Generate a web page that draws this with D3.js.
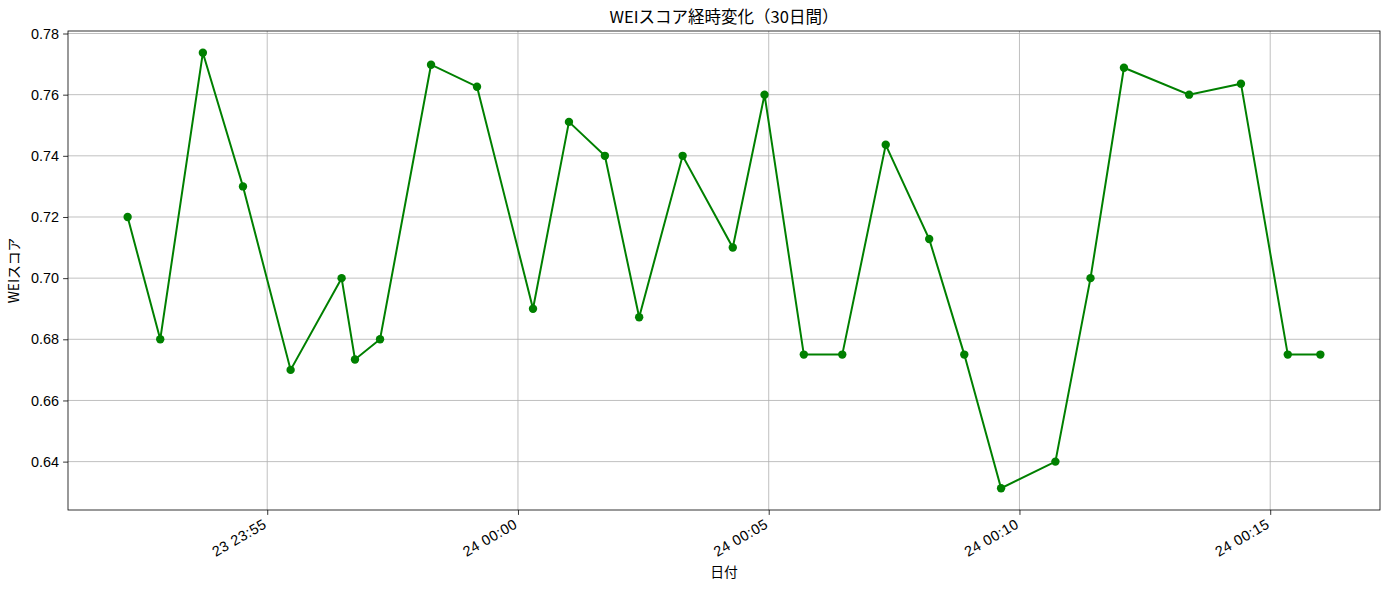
<!DOCTYPE html>
<html><head><meta charset="utf-8">
<script src="https://cdn.jsdelivr.net/npm/d3@7"></script>
<style>
html,body{margin:0;padding:0;background:#fff;}
svg{display:block;font-family:"Noto Sans CJK JP","Noto Sans",sans-serif;}
</style></head>
<body>
<svg id="chart" width="1389" height="590"></svg>
<script>
const times = ["2025-06-23T23:52:13","2025-06-23T23:52:52","2025-06-23T23:53:43","2025-06-23T23:54:31","2025-06-23T23:55:28",
"2025-06-23T23:56:29","2025-06-23T23:56:45","2025-06-23T23:57:15","2025-06-23T23:58:16","2025-06-23T23:59:11",
"2025-06-24T00:00:18","2025-06-24T00:01:01","2025-06-24T00:01:44","2025-06-24T00:02:25","2025-06-24T00:03:17",
"2025-06-24T00:04:17","2025-06-24T00:04:55","2025-06-24T00:05:42","2025-06-24T00:06:28","2025-06-24T00:07:20",
"2025-06-24T00:08:12","2025-06-24T00:08:54","2025-06-24T00:09:38","2025-06-24T00:10:43","2025-06-24T00:11:25",
"2025-06-24T00:12:05","2025-06-24T00:13:23","2025-06-24T00:14:25","2025-06-24T00:15:21","2025-06-24T00:16:00"];
const weiScores = [0.720,0.680,0.7737,0.730,0.670,0.700,0.6734,0.680,0.7698,0.7626,
0.690,0.7511,0.740,0.6872,0.740,0.710,0.760,0.675,0.675,0.7436,
0.7128,0.675,0.6313,0.640,0.700,0.7688,0.760,0.7636,0.675,0.675];
const yTicks = [0.64,0.66,0.68,0.70,0.72,0.74,0.76,0.78];
const titleText = "WEIスコア経時変化（30日間）";
const xLabel = "日付";
const yLabel = "WEIスコア";

const parse = d3.utcParse("%Y-%m-%dT%H:%M:%S");
const data = times.map((t,i)=>({t:parse(t), v:weiScores[i]}));

const svg = d3.select("#chart");
const m = {l:68, t:31, r:9, b:80};
const W = 1389 - m.l - m.r, H = 590 - m.t - m.b;

const tExt = d3.extent(data, d=>d.t);
const tPad = (tExt[1]-tExt[0])*0.05;
const vExt = d3.extent(data, d=>d.v);
const vPad = (vExt[1]-vExt[0])*0.05;

const x = d3.scaleUtc().domain([new Date(+tExt[0]-tPad), new Date(+tExt[1]+tPad)]).range([0,W]);
const y = d3.scaleLinear().domain([vExt[0]-vPad, vExt[1]+vPad]).range([H,0]);

const g = svg.append("g").attr("transform",`translate(${m.l},${m.t})`);
const xTickVals = x.ticks(d3.utcMinute.every(5));

// grid
g.append("g").selectAll("line").data(xTickVals).join("line")
  .attr("x1",d=>x(d)).attr("x2",d=>x(d)).attr("y1",0).attr("y2",H)
  .attr("stroke","#b0b0b0").attr("stroke-width",0.8);
g.append("g").selectAll("line").data(yTicks).join("line")
  .attr("x1",0).attr("x2",W).attr("y1",d=>y(d)).attr("y2",d=>y(d))
  .attr("stroke","#b0b0b0").attr("stroke-width",0.8);

// line
g.append("path").datum(data)
  .attr("fill","none").attr("stroke","#008000").attr("stroke-width",2)
  .attr("d", d3.line().x(d=>x(d.t)).y(d=>y(d.v)));
g.append("g").selectAll("circle").data(data).join("circle")
  .attr("cx",d=>x(d.t)).attr("cy",d=>y(d.v)).attr("r",4.2).attr("fill","#008000");

// axes
const xAxis = g.append("g").attr("transform",`translate(0,${H})`)
  .call(d3.axisBottom(x).tickValues(xTickVals).tickFormat(d3.utcFormat("%d %H:%M")).tickSize(4.9).tickPadding(0));
xAxis.select(".domain").remove();
xAxis.selectAll("line").attr("stroke","#000").attr("stroke-width",0.8);
xAxis.selectAll("text")
  .attr("font-size","14.4px").attr("fill","#000").attr("letter-spacing","0.5px")
  .attr("text-anchor","end").attr("dy",null).attr("y",null)
  .attr("transform","translate(0,17) rotate(-30)");

const yAxis = g.append("g")
  .call(d3.axisLeft(y).tickValues(yTicks).tickFormat(d3.format(".2f")).tickSize(4.9).tickPadding(4));
yAxis.select(".domain").remove();
yAxis.selectAll("line").attr("stroke","#000").attr("stroke-width",0.8);
yAxis.selectAll("text").attr("font-size","14.4px").attr("fill","#000");

// frame
g.append("rect").attr("x",0).attr("y",0).attr("width",W).attr("height",H)
  .attr("fill","none").attr("stroke","#000").attr("stroke-width",0.8);

// labels
svg.append("text").attr("x",m.l+W/2).attr("y",23).attr("text-anchor","middle")
  .attr("font-size","16.5px").attr("fill","#000").text(titleText);
svg.append("text").attr("x",m.l+W/2).attr("y",577).attr("text-anchor","middle")
  .attr("font-size","13.8px").attr("fill","#000").text(xLabel);
svg.append("text").attr("transform",`translate(19,${m.t+H/2}) rotate(-90)`).attr("text-anchor","middle")
  .attr("font-size","13.8px").attr("fill","#000").text(yLabel);
</script>
</body></html>
